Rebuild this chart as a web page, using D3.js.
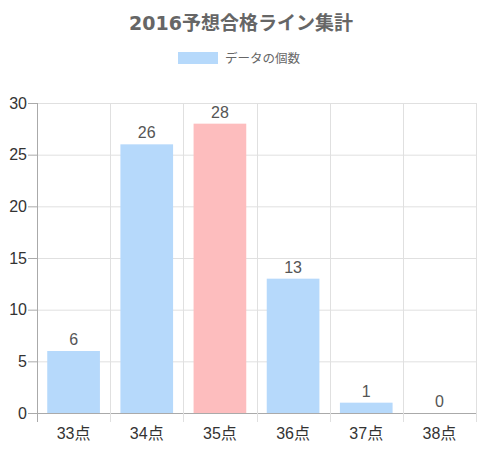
<!DOCTYPE html>
<html>
<head>
<meta charset="utf-8">
<script src="https://cdn.jsdelivr.net/npm/d3@7"></script>
<style>
  body { margin: 0; background: #fff; }
  text { font-family: "Liberation Sans", Arial, "Noto Sans CJK JP", sans-serif; }
</style>
</head>
<body>
<div id="chart-area"></div>
<script>
// data
let categories = ["33点", "34点", "35点", "36点", "37点", "38点"];
let counts = [6, 26, 28, 13, 1, 0];
let barColors = ["#b6d9fb", "#b6d9fb", "#fdbdbe", "#b6d9fb", "#b6d9fb", "#b6d9fb"];
let yTicks = [0, 5, 10, 15, 20, 25, 30];
let title = "2016予想合格ライン集計";
let seriesName = "データの個数";

let margin = {top: 103, right: 4, bottom: 37, left: 37},
    width = 480 - margin.left - margin.right,
    height = 450 - margin.top - margin.bottom;

let svg = d3.select("#chart-area")
    .append("svg")
        .attr("width", 480)
        .attr("height", 450);

// title
svg.append("text")
    .attr("x", 241)
    .attr("y", 30)
    .attr("text-anchor", "middle")
    .attr("font-size", "19px")
    .attr("font-weight", "bold")
    .attr("fill", "#666")
    .style("font-family", "'DejaVu Sans', 'Noto Sans CJK JP', sans-serif")
    .text(title);

// legend
svg.append("rect")
    .attr("x", 178)
    .attr("y", 52)
    .attr("width", 40)
    .attr("height", 12)
    .attr("fill", "#b6d9fb");

svg.append("text")
    .attr("x", 225)
    .attr("y", 63)
    .attr("font-size", "12.5px")
    .attr("fill", "#666")
    .text(seriesName);

let g = svg.append("g")
    .attr("transform", "translate(" + margin.left + ", " + margin.top + ")");

let x = d3.scaleBand()
    .domain(categories)
    .range([0, width])
    .paddingInner(0)
    .paddingOuter(0);

let y = d3.scaleLinear()
    .domain([0, 30])
    .range([height, 0]);

// grid lines
g.selectAll(".hgrid")
    .data(yTicks)
    .enter().append("line")
        .attr("class", "hgrid")
        .attr("x1", 0)
        .attr("x2", width)
        .attr("y1", d => y(d) + 0.5)
        .attr("y2", d => y(d) + 0.5)
        .attr("stroke", d => d === 0 ? "#aaa" : "#e0e0e0");

let vEdges = categories.map(c => x(c)).concat([width]);
g.selectAll(".vgrid")
    .data(vEdges)
    .enter().append("line")
        .attr("class", "vgrid")
        .attr("x1", d => Math.round(d) + 0.5)
        .attr("x2", d => Math.round(d) + 0.5)
        .attr("y1", 0)
        .attr("y2", height + 9)
        .attr("stroke", (d, i) => i === 0 ? "#aaa" : "#e0e0e0");

// y tick marks
g.selectAll(".ytick")
    .data(yTicks)
    .enter().append("line")
        .attr("x1", -9)
        .attr("x2", 0)
        .attr("y1", d => y(d) + 0.5)
        .attr("y2", d => y(d) + 0.5)
        .attr("stroke", "#aaa");

// y labels
g.selectAll(".ylabel")
    .data(yTicks)
    .enter().append("text")
        .attr("x", -10)
        .attr("y", d => y(d))
        .attr("dy", "0.35em")
        .attr("text-anchor", "end")
        .attr("font-size", "16px")
        .attr("fill", "#333")
        .text(d => d);

// x labels
g.selectAll(".xlabel")
    .data(categories)
    .enter().append("text")
        .attr("x", d => x(d) + x.bandwidth() / 2)
        .attr("y", height + 26)
        .attr("text-anchor", "middle")
        .attr("font-size", "16px")
        .attr("fill", "#333")
        .text(d => d);

// bars
let barW = x.bandwidth() * 0.72;
g.selectAll("rect.bar")
    .data(counts)
    .enter().append("rect")
        .attr("class", "bar")
        .attr("x", (d, i) => x(categories[i]) + (x.bandwidth() - barW) / 2)
        .attr("y", d => y(d))
        .attr("width", barW)
        .attr("height", d => height - y(d))
        .attr("fill", (d, i) => barColors[i]);

// value labels
g.selectAll(".vlabel")
    .data(counts)
    .enter().append("text")
        .attr("x", (d, i) => x(categories[i]) + x.bandwidth() / 2)
        .attr("y", d => y(d) - 6)
        .attr("text-anchor", "middle")
        .attr("font-size", "16px")
        .attr("fill", "#555")
        .text(d => d);
</script>
</body>
</html>
